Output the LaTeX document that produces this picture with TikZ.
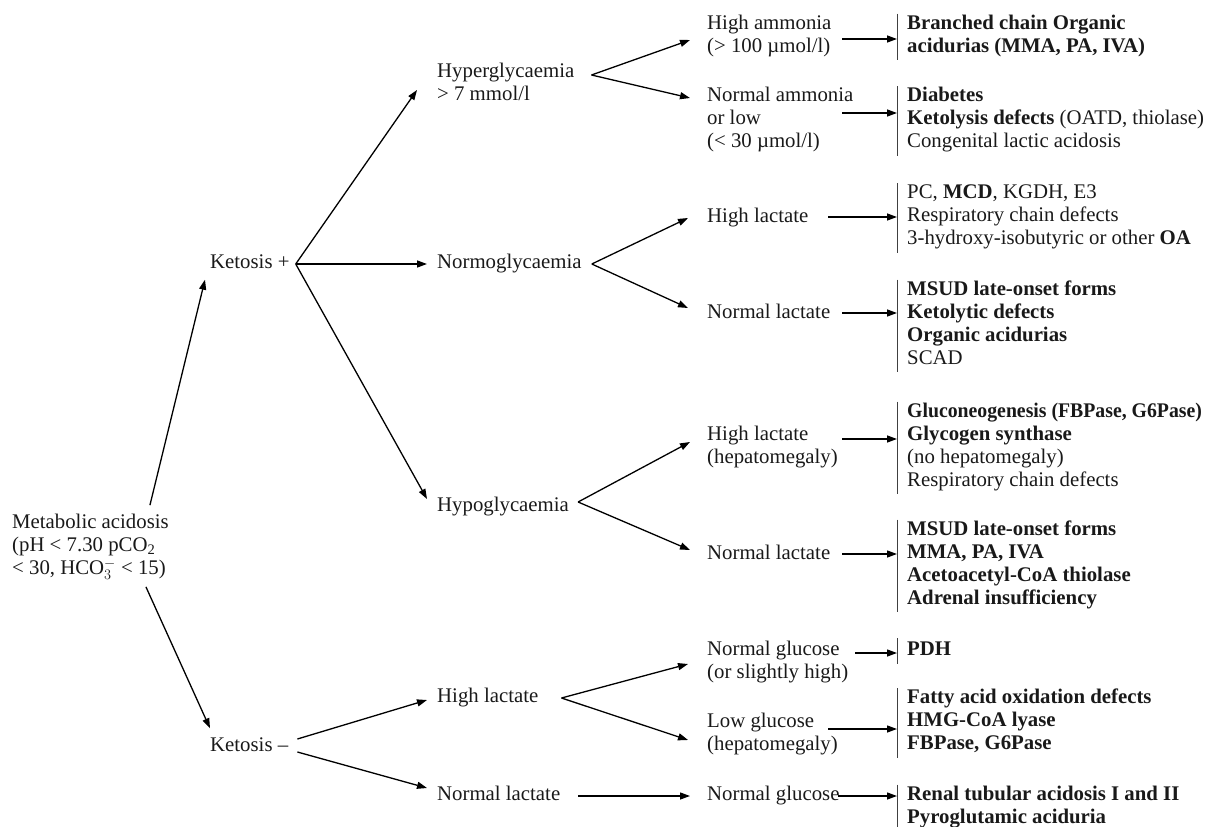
\documentclass[tikz,border=0pt]{standalone}
\usepackage{fontspec}
\setmainfont{Liberation Serif}
\usetikzlibrary{arrows.meta,calc}
\begin{document}
\begin{tikzpicture}[x=1pt,y=-1pt,
  txt/.style={inner xsep=0pt, inner ysep=1pt, anchor=west, align=left,
    font=\fontsize{20.8}{23}\selectfont, text=black!90,
    execute at begin node=\strut, execute at end node=\strut},
  res/.style={txt, inner xsep=10pt},
  arr/.style={-{Triangle[length=10pt,width=7pt]}, line width=1.3pt, black},
  bar/.style={line width=1pt, black!75}]
\useasboundingbox (0,0) rectangle (1205,827);

% left column
\node[txt] (meta) at (12,548) {Metabolic acidosis\\(pH < 7.30 pCO\smash{\textsubscript{2}}\\< 30, HCO\smash{$_{3}^{-}$} < 15)};
\node[txt] (kp) at (210,264) {Ketosis +};
\node[txt] (km) at (210,747) {Ketosis –};

% second column
\node[txt] (hyper) at (437,85) {Hyperglycaemia\\> 7 mmol/l};
\node[txt] (normo) at (437,264) {Normoglycaemia};
\node[txt] (hypo) at (437,507) {Hypoglycaemia};
\node[txt] (hl3) at (437,698) {High lactate};
\node[txt] (nl3) at (437,796) {Normal lactate};

% third column
\node[txt] (hiam) at (707,37) {High ammonia\\(> 100 µmol/l)};
\node[txt] (noam) at (707,121) {Normal ammonia\\or low\\(< 30 µmol/l)};
\node[txt] (hl1) at (707,218) {High lactate};
\node[txt] (nl1) at (707,314) {Normal lactate};
\node[txt] (hl2) at (707,448) {High lactate\\(hepatomegaly)};
\node[txt] (nl2) at (707,555) {Normal lactate};
\node[txt] (ng1) at (707,663) {Normal glucose\\(or slightly high)};
\node[txt] (lg) at (707,735) {Low glucose\\(hepatomegaly)};
\node[txt] (ng2) at (707,796) {Normal glucose};

% results
\node[res] (r1) at (897,37) {\textbf{Branched chain Organic}\\\textbf{acidurias (MMA, PA, IVA)}};
\node[res] (r2) at (897,121) {\textbf{Diabetes}\\\textbf{Ketolysis defects} (OATD, thiolase)\\Congenital lactic acidosis};
\node[res] (r3) at (897,218) {PC, \textbf{MCD}, KGDH, E3\\Respiratory chain defects\\3-hydroxy-isobutyric or other \textbf{OA}};
\node[res] (r4) at (897,326) {\textbf{MSUD late-onset forms}\\\textbf{Ketolytic defects}\\\textbf{Organic acidurias}\\SCAD};
\node[res] (r5) at (897,448) {\scalebox{0.95}[1]{\textbf{Gluconeogenesis (FBPase, G6Pase)}}\\\textbf{Glycogen synthase}\\(no hepatomegaly)\\Respiratory chain defects};
\node[res] (r6) at (897,566) {\textbf{MSUD late-onset forms}\\\textbf{MMA, PA, IVA}\\\textbf{Acetoacetyl-CoA thiolase}\\\textbf{Adrenal insufficiency}};
\node[res] (r7) at (897,651) {\textbf{PDH}};
\node[res] (r8) at (897,723) {\textbf{Fatty acid oxidation defects}\\\textbf{HMG-CoA lyase}\\\textbf{FBPase, G6Pase}};
\node[res] (r9) at (897,808) {\textbf{Renal tubular acidosis I and II}\\\textbf{Pyroglutamic aciduria}};

\foreach \n in {r1,r2,r3,r4,r5,r6,r7,r8,r9}
  \draw[bar] (\n.north west) -- (\n.south west);

% fork points
\coordinate (kpo) at ($(kp.east)+(6,0)$);
\coordinate (hyo) at ($(hyper.east)+(17,-10)$);
\coordinate (nmo) at ($(normo.east)+(10,0)$);
\coordinate (hpo) at ($(hypo.east)+(9,-5)$);
\coordinate (hlo) at ($(hl3.east)+(23,0)$);

% metabolic acidosis
\draw[arr] ($(meta.north east)+(-19,-8)$) -- ($(kp.south west)+(-5,3)$);
\draw[arr] ($(meta.south east)+(-23,4)$) -- ($(km.north west)+(0,-6)$);

% ketosis +
\draw[arr] (kpo) -- ($(hyper.west)+(-20,5)$);
\draw[arr] (kpo) -- ($(normo.west)+(-10,0)$);
\draw[arr] (kpo) -- ($(hypo.west)+(-10,-8)$);

% ketosis -
\draw[arr] ($(km.east)+(9,-8)$) -- ($(hl3.west)+(-10,2)$);
\draw[arr] ($(km.east)+(9,5)$) -- ($(nl3.west)+(-10,-8)$);

% second column forks
\draw[arr] (hyo) -- ($(hiam.west)+(-17,3)$);
\draw[arr] (hyo) -- ($(noam.west)+(-17,-23)$);
\draw[arr] (nmo) -- ($(hl1.west)+(-19,0)$);
\draw[arr] (nmo) -- ($(nl1.west)+(-19,-6)$);
\draw[arr] (hpo) -- ($(hl2.west)+(-17,-6)$);
\draw[arr] (hpo) -- ($(nl2.west)+(-17,-5)$);
\draw[arr] (hlo) -- ($(ng1.west)+(-19,1)$);
\draw[arr] (hlo) -- ($(lg.west)+(-19,5)$);
\draw[arr] ($(nl3.east)+(18,0)$) -- ($(ng2.west)+(-17,0)$);

% to results
\draw[arr] ($(r1.west)+(-55,2)$) -- ($(r1.west)+(0,2)$);
\draw[arr] ($(r2.west)+(-55,-8)$) -- ($(r2.west)+(0,-8)$);
\draw[arr] ($(r3.west)+(-69,-1)$) -- ($(r3.west)+(0,-1)$);
\draw[arr] ($(r4.west)+(-55,-13)$) -- ($(r4.west)+(0,-13)$);
\draw[arr] ($(r5.west)+(-55,-9)$) -- ($(r5.west)+(0,-9)$);
\draw[arr] ($(r6.west)+(-55,-12)$) -- ($(r6.west)+(0,-12)$);
\draw[arr] ($(r7.west)+(-42,2)$) -- ($(r7.west)+(0,2)$);
\draw[arr] ($(r8.west)+(-69,6)$) -- ($(r8.west)+(0,6)$);
\draw[arr] ($(r9.west)+(-59,-12)$) -- ($(r9.west)+(0,-12)$);
\end{tikzpicture}
\end{document}
